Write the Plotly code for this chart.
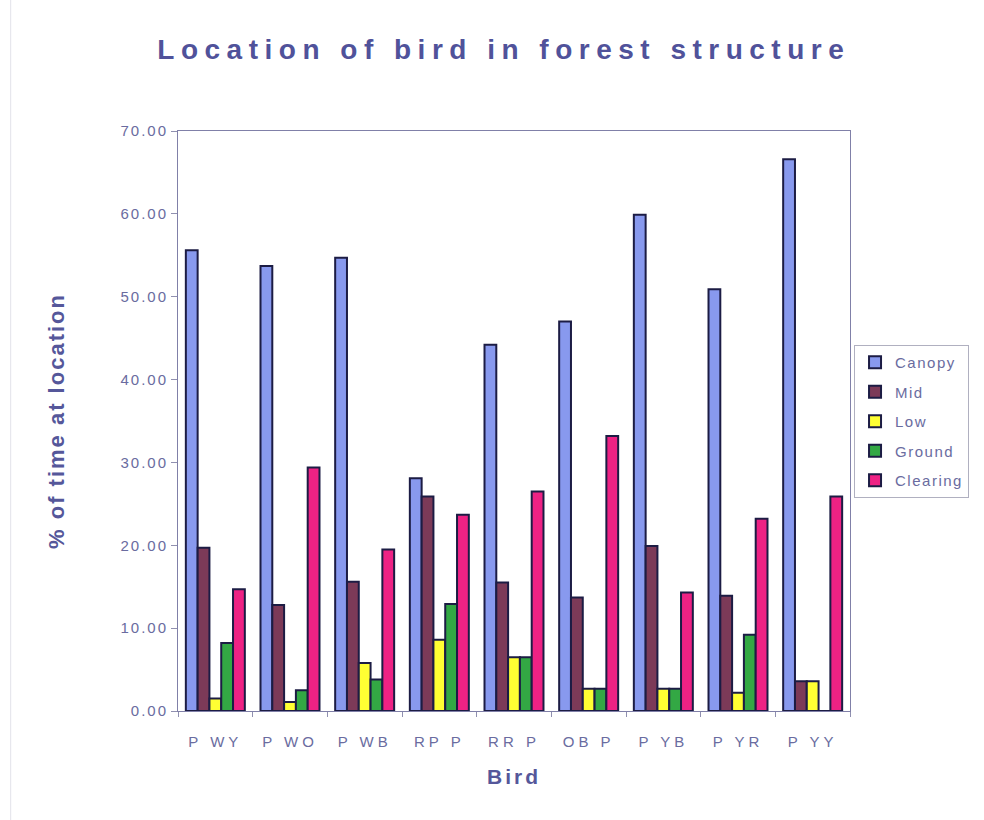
import plotly.graph_objects as go

birds = ["P WY", "P WO", "P WB", "RP P", "RR P", "OB P", "P YB", "P YR", "P YY"]
canopy = [55.6, 53.7, 54.7, 28.1, 44.2, 47.0, 59.9, 50.9, 66.6]
mid = [19.7, 12.8, 15.6, 25.9, 15.5, 13.7, 19.9, 13.9, 3.6]
low = [1.5, 1.1, 5.8, 8.6, 6.5, 2.7, 2.7, 2.2, 3.6]
ground = [8.2, 2.5, 3.8, 12.9, 6.5, 2.7, 2.7, 9.2, 0.0]
clearing = [14.7, 29.4, 19.5, 23.7, 26.5, 33.2, 14.3, 23.2, 25.9]

series = [
    ("Canopy", canopy, "#8899ee"),
    ("Mid", mid, "#7c3a58"),
    ("Low", low, "#ffff33"),
    ("Ground", ground, "#33a844"),
    ("Clearing", clearing, "#ee2284"),
]

y_ticks = [0, 10, 20, 30, 40, 50, 60, 70]

FONT = "Liberation Sans, Arial, sans-serif"


def spaced(s, px=2):
    return f'<span style="letter-spacing:{px}px">{s}</span>'


fig = go.Figure()
for name, vals, color in series:
    fig.add_trace(go.Bar(
        name=spaced(name, 1.5),
        legendgroup=name,
        x=birds,
        y=vals,
        marker=dict(color=color, line=dict(color="#1c1c44", width=2)),
    ))

fig.update_layout(
    width=984,
    height=820,
    barmode="group",
    bargap=0.21,
    bargroupgap=0,
    paper_bgcolor="white",
    plot_bgcolor="white",
    margin=dict(l=178, r=134, t=131, b=109, autoexpand=False),
    font=dict(family=FONT, color="#5a5c98"),
    title=dict(
        text=spaced("<b>Location of bird in forest structure</b>", 6.5),
        x=0.512, xanchor="center", y=0.94, yanchor="middle",
        font=dict(size=28, color="#50529a", family=FONT),
    ),
    xaxis=dict(
        tickmode="array",
        tickvals=birds,
        ticktext=[spaced(b, 4) for b in birds],
        tickfont=dict(size=15, color="#6a6ca0"),
        ticks="outside", ticklen=5, tickcolor="#9090b0",
        tickson="boundaries",
        ticklabelstandoff=17,
        showline=True, linecolor="#8080a8", linewidth=1, mirror=True,
        showgrid=False,
        title=dict(text=spaced("<b>Bird</b>", 3), font=dict(size=21, color="#55579a"), standoff=20),
    ),
    yaxis=dict(
        range=[0, 70],
        tickmode="array",
        tickvals=y_ticks,
        ticktext=[spaced(f"{v:.2f}", 2) for v in y_ticks],
        tickfont=dict(size=15, color="#6a6ca0"),
        ticks="outside", ticklen=6, tickcolor="#9090b0",
        showline=True, linecolor="#8080a8", linewidth=1, mirror=True,
        showgrid=False, zeroline=False,
        title=dict(text=spaced("<b>% of time at location</b>", 2),
                   font=dict(size=22, color="#55579a"), standoff=49),
    ),
    legend=dict(
        x=1.006, xanchor="left", y=0.631, yanchor="top",
        bgcolor="white", bordercolor="#b0b0c0", borderwidth=1,
        font=dict(size=15, color="#6a6ca0"),
        tracegroupgap=7, itemwidth=30,
    ),
    shapes=[dict(type="line", xref="paper", yref="paper", x0=-0.249, x1=-0.249, y0=-0.19, y1=1.226,
                 line=dict(color="#e2e2ea", width=1), layer="below")],
)

fig.write_html("out.html")
